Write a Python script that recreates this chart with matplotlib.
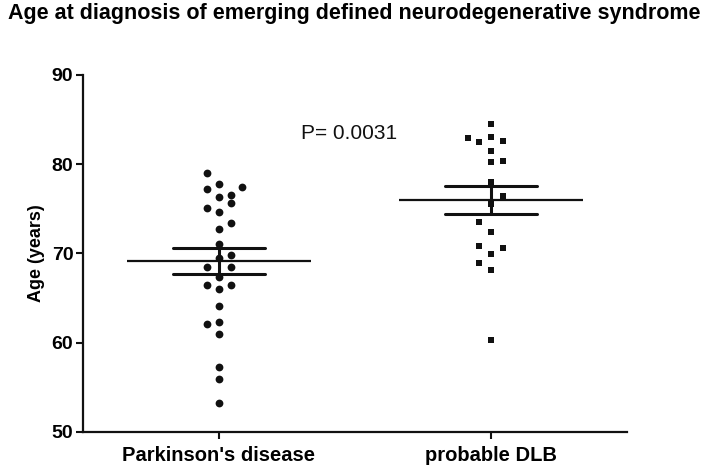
import matplotlib
matplotlib.use("Agg")
import matplotlib.pyplot as plt

plt.rcParams["font.family"] = ["Liberation Sans", "DejaVu Sans"]

# ---------Datos-----------
grupos = ["Parkinson's disease", "probable DLB"]

edad_pd = [79.05, 77.8, 77.4, 77.2, 76.55, 76.3, 75.7, 75.06, 74.7, 73.4, 72.75,
           71.1, 69.8, 69.45, 68.5, 68.5, 67.4, 66.5, 66.5, 66.0, 64.1, 62.3,
           62.1, 61.0, 57.25, 55.9, 53.3]
col_pd = [-1, 0, 2, -1, 1, 0, 1, -1, 0, 1, 0,
          0, 1, 0, -1, 1, 0, -1, 1, 0, 0, 0,
          -1, 0, 0, 0, 0]

edad_dlb = [84.5, 82.9, 82.5, 83.0, 82.6, 81.5, 80.2, 80.4, 78.0, 76.4, 75.6,
            73.5, 72.4, 70.8, 70.6, 69.9, 68.9, 68.15, 60.3]
col_dlb = [0, -2, -1, 0, 1, 0, 0, 1, 0, 1, 0,
           -1, 0, -1, 1, 0, -1, 0, 0]

medias = [69.16, 76.0]
sem = [1.42, 1.52]
p_valor = "P= 0.0031"

# ---------Grafico-----------
fig = plt.figure(figsize=(7.09, 4.66), dpi=100)
ax = fig.add_axes([83 / 709, 34 / 466, 544 / 709, 357 / 466])

paso = 0.0427
ax.plot([0 + c * paso for c in col_pd], edad_pd, "o", color="#111111", ms=5.6, mew=0)
ax.plot([1 + c * paso for c in col_dlb], edad_dlb, "s", color="#111111", ms=5.0, mew=0)

for i in range(2):
    ax.hlines(medias[i], i - 0.337, i + 0.337, color="#111111", lw=1.6)
    ax.hlines([medias[i] - sem[i], medias[i] + sem[i]], i - 0.17, i + 0.17,
              color="#111111", lw=2.2, capstyle="round")
    ax.vlines(i, medias[i] - sem[i], medias[i] + sem[i], color="#111111", lw=2.2)

ax.text(0.30, 83.4, p_valor, fontsize=15, va="center", ha="left", color="#111111")

ax.set_xlim(-0.5, 1.5)
ax.set_ylim(50, 90)
ax.set_yticks([50, 60, 70, 80, 90])
ax.set_xticks([0, 1])
ax.set_xticklabels(grupos, fontsize=14.5, fontweight="bold")
for t in ax.get_yticklabels():
    t.set_fontsize(14)
    t.set_fontweight("bold")
ax.tick_params(direction="out", length=5, width=1.5, color="#111111", pad=2)
ax.tick_params(axis="x", pad=5)
ax.set_ylabel("Age (years)", fontsize=13, fontweight="bold", labelpad=5)
for s in ["top", "right"]:
    ax.spines[s].set_visible(False)
for s in ["left", "bottom"]:
    ax.spines[s].set_linewidth(1.6)
    ax.spines[s].set_color("#111111")

fig.text(0.5, 1 - 14 / 466, "Age at diagnosis of emerging defined neurodegenerative syndrome",
         ha="center", va="center", fontsize=15.5, fontweight="bold")

fig.savefig("out.png", dpi=100)
